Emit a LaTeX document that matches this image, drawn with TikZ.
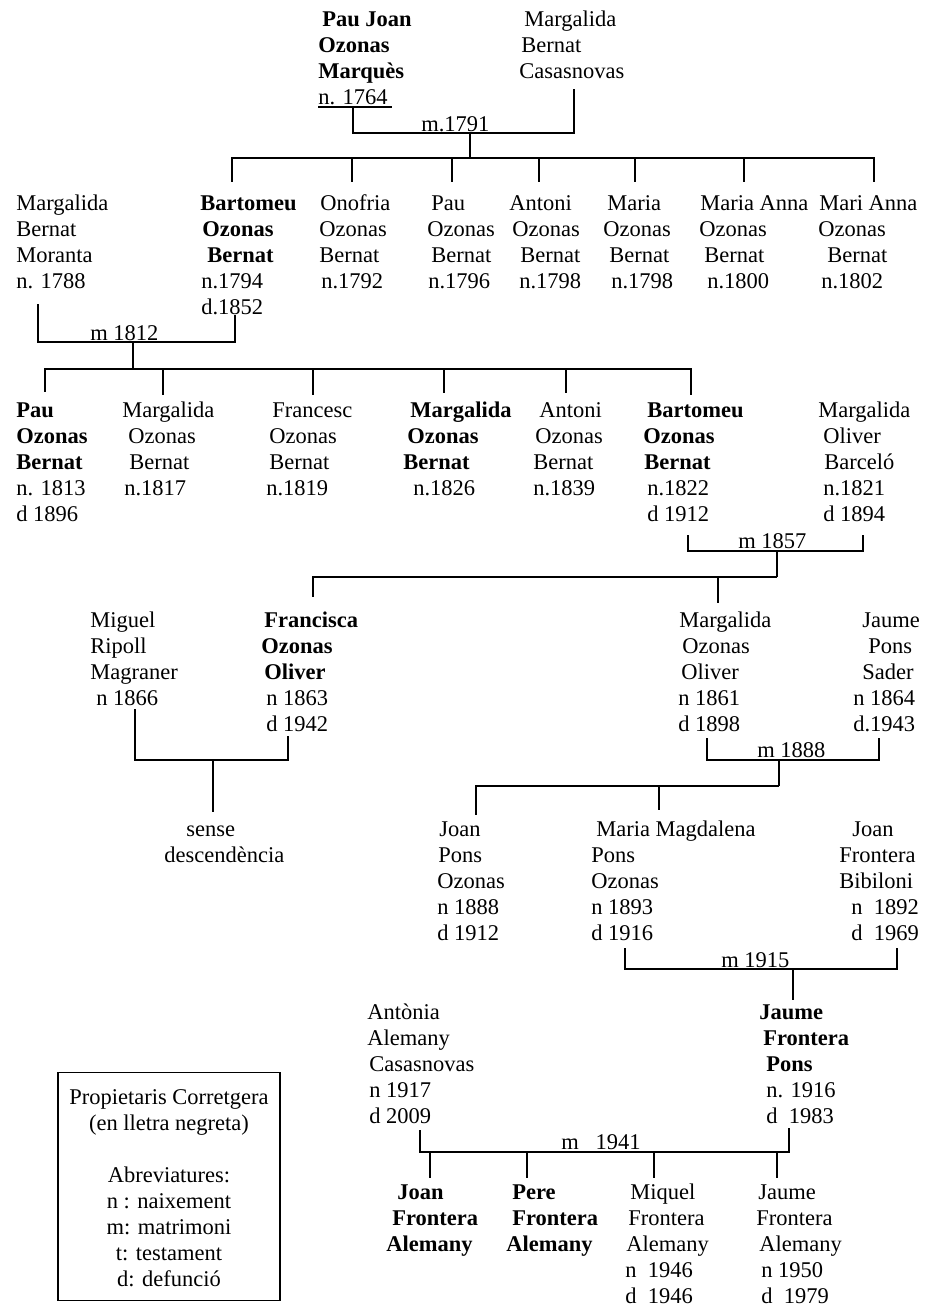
\documentclass[tikz,border=0pt]{standalone}
\usepackage{fontspec}
\setmainfont{Liberation Serif}
\newlength{\pxu}\setlength{\pxu}{0.02cm}
\newcommand{\ind}[1]{\hspace*{#1\pxu}}
\newcommand{\tstrut}{\rule{0pt}{10.24pt}}
\newcommand{\pfont}{\fontsize{12.8}{14.8}\selectfont}
\begin{document}
\begin{tikzpicture}[x=0.02cm, y=-0.02cm,
    person/.style={anchor=north west, inner sep=0pt, align=left, font=\pfont, yshift=10.24pt},
    wedlabel/.style={anchor=base west, inner sep=0pt, font=\pfont},
    tie/.style={line width=0.6pt}]
    \useasboundingbox (0,0) rectangle (927,1309);

    % Generation 1
    \node[person] (pjom) at (318,26) {\tstrut\ind{4}\textbf{Pau Joan}\\\textbf{Ozonas}\\\textbf{Marquès}\\n. 1764};
    \node[person] (mbc) at (519,26) {\tstrut\ind{5}Margalida\\\ind{2}Bernat\\Casasnovas};
    \node[wedlabel] (l1791) at (421,131) {m.1791};
    \coordinate (u1764a) at (318,107);
    \coordinate (u1764b) at (392,107);
    \coordinate (d1764) at (353,107);
    \coordinate (dcas) at (574,89);
    \coordinate (m1791) at (470,133);
    \coordinate (s1791) at (470,158);
    \draw[tie] (u1764a) -- (u1764b);
    \draw[tie] (d1764) |- (m1791) -| (dcas);
    \draw[tie] (m1791) -- (s1791);

    % Generation 2
    \node[person] (mbm) at (16,210) {\tstrut Margalida\\Bernat\\Moranta\\n. 1788};
    \node[person] (bob) at (200,210) {\tstrut\textbf{Bartomeu}\\\ind{2}\textbf{Ozonas}\\\ind{7}\textbf{Bernat}\\\ind{1}n.1794\\\ind{1}d.1852};
    \node[person] (oob) at (319,210) {\tstrut\ind{1}Onofria\\Ozonas\\Bernat\\\ind{2}n.1792};
    \node[person] (paob) at (427,210) {\tstrut\ind{4}Pau\\Ozonas\\\ind{4}Bernat\\\ind{1}n.1796};
    \node[person] (anob) at (509,210) {\tstrut Antoni\\\ind{3}Ozonas\\\ind{11}Bernat\\\ind{10}n.1798};
    \node[person] (maob) at (603,210) {\tstrut\ind{4}Maria\\Ozonas\\\ind{6}Bernat\\\ind{8}n.1798};
    \node[person] (maaob) at (699,210) {\tstrut\ind{1}Maria Anna\\Ozonas\\\ind{5}Bernat\\\ind{8}n.1800};
    \node[person] (mraob) at (818,210) {\tstrut\ind{1}Mari Anna\\Ozonas\\\ind{9}Bernat\\\ind{3}n.1802};
    \coordinate (t-bob) at (232,182);
    \coordinate (t-oob) at (352,182);
    \coordinate (t-paob) at (452,182);
    \coordinate (t-anob) at (539,182);
    \coordinate (t-maob) at (635,182);
    \coordinate (t-maaob) at (744,182);
    \coordinate (t-mraob) at (874,182);
    \foreach \kid in {bob,oob,paob,anob,maob,maaob,mraob}
        \draw[tie] (s1791) -| (t-\kid);

    % m 1812
    \node[wedlabel] (l1812) at (90,340) {m 1812};
    \coordinate (d1788) at (38,304);
    \coordinate (d1852) at (235,315);
    \coordinate (m1812) at (133,342);
    \coordinate (s1812) at (133,369);
    \draw[tie] (d1788) |- (m1812) -| (d1852);
    \draw[tie] (m1812) -- (s1812);

    % Generation 3
    \node[person] (pob) at (16,417) {\tstrut\textbf{Pau}\\\textbf{Ozonas}\\\textbf{Bernat}\\n. 1813\\d 1896};
    \node[person] (mob) at (122,417) {\tstrut Margalida\\\ind{6}Ozonas\\\ind{7}Bernat\\\ind{2}n.1817};
    \node[person] (fob) at (266,417) {\tstrut\ind{6}Francesc\\\ind{3}Ozonas\\\ind{3}Bernat\\n.1819};
    \node[person] (mobb) at (403,417) {\tstrut\ind{7}\textbf{Margalida}\\\ind{4}\textbf{Ozonas}\\\textbf{Bernat}\\\ind{10}n.1826};
    \node[person] (aob) at (533,417) {\tstrut\ind{6}Antoni\\\ind{2}Ozonas\\Bernat\\n.1839};
    \node[person] (bobb) at (643,417) {\tstrut\ind{4}\textbf{Bartomeu}\\\textbf{Ozonas}\\\ind{1}\textbf{Bernat}\\\ind{4}n.1822\\\ind{4}d 1912};
    \node[person] (mobc) at (818,417) {\tstrut Margalida\\\ind{5}Oliver\\\ind{6}Barceló\\\ind{5}n.1821\\\ind{5}d 1894};
    \coordinate (t-pob) at (45,392);
    \coordinate (t-mob) at (163,395);
    \coordinate (t-fob) at (313,395);
    \coordinate (t-mobb) at (444,393);
    \coordinate (t-aob) at (566,393);
    \coordinate (t-bobb) at (691,395);
    \foreach \kid in {pob,mob,fob,mobb,aob,bobb}
        \draw[tie] (s1812) -| (t-\kid);

    % m 1857
    \node[wedlabel] (l1857) at (738,548) {m 1857};
    \coordinate (d1912) at (688,535);
    \coordinate (d1894) at (863,535);
    \coordinate (m1857) at (777,551);
    \coordinate (s1857) at (777,577);
    \draw[tie] (d1912) |- (m1857) -| (d1894);
    \draw[tie] (m1857) -- (s1857);

    % Generation 4
    \node[person] (mrm) at (90,627) {\tstrut Miguel\\Ripoll\\Magraner\\\ind{6}n 1866};
    \node[person] (foo) at (261,627) {\tstrut\ind{3}\textbf{Francisca}\\\textbf{Ozonas}\\\ind{3}\textbf{Oliver}\\\ind{5}n 1863\\\ind{5}d 1942};
    \node[person] (moo) at (678,627) {\tstrut\ind{1}Margalida\\\ind{4}Ozonas\\\ind{3}Oliver\\n 1861\\d 1898};
    \node[person] (jps) at (853,627) {\tstrut\ind{9}Jaume\\\ind{15}Pons\\\ind{9}Sader\\n 1864\\d.1943};
    \coordinate (t-foo) at (313,597);
    \coordinate (t-moo) at (718,603);
    \foreach \kid in {foo,moo}
        \draw[tie] (s1857) -| (t-\kid);

    % Francisca, no children
    \node[person] (sense) at (164,836) {\tstrut\ind{22}sense\\descendència};
    \coordinate (d1866) at (135,709);
    \coordinate (d1942) at (288,736);
    \coordinate (mfm) at (213,760);
    \coordinate (t-sense) at (213,812);
    \draw[tie] (d1866) |- (mfm) -| (d1942);
    \draw[tie] (mfm) -- (t-sense);

    % m 1888
    \node[wedlabel] (l1888) at (757,757) {m 1888};
    \coordinate (d1898) at (707,738);
    \coordinate (d1943) at (879,738);
    \coordinate (m1888) at (779,760);
    \coordinate (s1888) at (779,786);
    \draw[tie] (d1898) |- (m1888) -| (d1943);
    \draw[tie] (m1888) -- (s1888);

    % Generation 5
    \node[person] (jpo) at (437,836) {\tstrut\ind{2}Joan\\\ind{1}Pons\\Ozonas\\n 1888\\d 1912};
    \node[person] (mmpo) at (591,836) {\tstrut\ind{5}Maria Magdalena\\Pons\\Ozonas\\n 1893\\d 1916};
    \node[person] (jfb) at (839,836) {\tstrut\ind{13}Joan\\Frontera\\Bibiloni\\\ind{12}n\ \ 1892\\\ind{12}d\ \ 1969};
    \coordinate (t-jpo) at (476,815);
    \coordinate (t-mmpo) at (659,810);
    \foreach \kid in {jpo,mmpo}
        \draw[tie] (s1888) -| (t-\kid);

    % m 1915
    \node[wedlabel] (l1915) at (721,967) {m 1915};
    \coordinate (d1916) at (625,948);
    \coordinate (d1969) at (897,948);
    \coordinate (m1915) at (793,969);
    \coordinate (t-jfp) at (793,1000);
    \draw[tie] (d1916) |- (m1915) -| (d1969);
    \draw[tie] (m1915) -- (t-jfp);

    % Generation 6
    \node[person] (aac) at (367,1019) {\tstrut Antònia\\Alemany\\\ind{2}Casasnovas\\\ind{2}n 1917\\\ind{2}d 2009};
    \node[person] (jfp) at (759,1019) {\tstrut\textbf{Jaume}\\\ind{4}\textbf{Frontera}\\\ind{7}\textbf{Pons}\\\ind{7}n. 1916\\\ind{7}d\ \ 1983};

    % m 1941
    \node[wedlabel] (l1941) at (561,1149) {m\ \ \ 1941};
    \coordinate (d2009) at (420,1130);
    \coordinate (d1983) at (789,1128);
    \coordinate (m1941a) at (420,1152);
    \coordinate (m1941b) at (789,1152);
    \draw[tie] (d2009) -- (m1941a) -- (m1941b) -- (d1983);

    % Generation 7
    \node[person] (jfa) at (386,1199) {\tstrut\ind{11}\textbf{Joan}\\\ind{6}\textbf{Frontera}\\\textbf{Alemany}};
    \node[person] (pfa) at (506,1199) {\tstrut\ind{6}\textbf{Pere}\\\ind{6}\textbf{Frontera}\\\textbf{Alemany}};
    \node[person] (mfa) at (625,1199) {\tstrut\ind{5}Miquel\\\ind{3}Frontera\\\ind{1}Alemany\\n\ \ 1946\\d\ \ 1946};
    \node[person] (jfa2) at (756,1199) {\tstrut\ind{2}Jaume\\Frontera\\\ind{3}Alemany\\\ind{5}n 1950\\\ind{5}d\ \ 1979};
    \coordinate (t-jfa) at (430,1178);
    \coordinate (t-pfa) at (527,1178);
    \coordinate (t-mfa) at (654,1178);
    \coordinate (t-jfa2) at (777,1178);
    \foreach \kid in {jfa,pfa,mfa,jfa2}
        \draw[tie] (t-\kid |- m1941a) -- (t-\kid);

    % Legend
    \node[draw, tie, anchor=north, inner sep=0pt, minimum width=4.44cm, minimum height=4.56cm,
          align=center, font=\pfont] (legend) at (169,1072)
        {\tstrut Propietaris Corretgera\\(en lletra negreta)\\[14.8pt]Abreviatures:\\n : naixement\\m: matrimoni\\t: testament\\d: defunció};
\end{tikzpicture}
\end{document}
